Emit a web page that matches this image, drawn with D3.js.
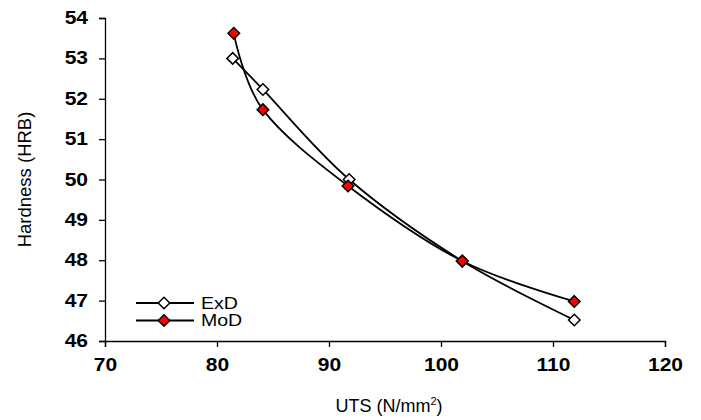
<!DOCTYPE html>
<html><head><meta charset="utf-8">
<script src="https://cdn.jsdelivr.net/npm/d3@7"></script>
<style>body{margin:0;background:#fff}svg{display:block}</style>
</head><body>
<svg id="c" width="701" height="420"></svg>
<script>
const seriesNames = ["ExD", "MoD"];
const utsExD = [81.4, 84.1, 91.8, 101.9, 111.9];
const hrbExD = [53.0, 52.23, 50.0, 47.98, 46.52];
const utsMoD = [81.5, 84.1, 91.7, 101.9, 111.9];
const hrbMoD = [53.62, 51.73, 49.84, 47.98, 46.98];
const xTicks = [70, 80, 90, 100, 110, 120];
const yTicks = [46, 47, 48, 49, 50, 51, 52, 53, 54];
const fills = ["#ffffff", "#ff0000"];

const svg = d3.select("#c");
const L = 105, R = 665, T = 18, B = 341;
const x = d3.scaleLinear().domain([70, 120]).range([L, R]);
const y = d3.scaleLinear().domain([46, 54]).range([B, T]);
const font = "'Liberation Sans', Arial, sans-serif";

function stretch(sel, f) {
  sel.each(function () {
    const w = this.getComputedTextLength();
    d3.select(this).attr("textLength", w * f).attr("lengthAdjust", "spacingAndGlyphs");
  });
}

const xa = svg.append("g").attr("transform", `translate(0,${B})`)
  .call(d3.axisBottom(x).tickValues(xTicks).tickSizeOuter(0).tickSize(6).tickPadding(12));
const ya = svg.append("g").attr("transform", `translate(${L},0)`)
  .call(d3.axisLeft(y).tickValues(yTicks).tickSizeOuter(0).tickSize(6).tickPadding(11));
[xa, ya].forEach(a => {
  a.select(".domain").attr("stroke", "#000").attr("stroke-width", 1.3);
  a.selectAll(".tick line").attr("stroke", "#000").attr("stroke-width", 1.3);
  a.selectAll(".tick text").attr("fill", "#000").style("font-family", font)
    .style("font-size", "17.5px").style("font-weight", "bold");
  stretch(a.selectAll(".tick text"), 1.2);
});

const data = [
  utsExD.map((v, i) => [v, hrbExD[i]]),
  utsMoD.map((v, i) => [v, hrbMoD[i]])
];
const line = d3.line().x(d => x(d[0])).y(d => y(d[1])).curve(d3.curveCatmullRom.alpha(0));
const sym = d3.symbol().type(d3.symbolDiamond2).size(85);

data.forEach((pts, si) => {
  svg.append("path").attr("d", line(pts)).attr("fill", "none")
    .attr("stroke", "#000").attr("stroke-width", 1.8);
});
data.forEach((pts, si) => {
  svg.append("g").selectAll("path").data(pts).join("path")
    .attr("d", sym).attr("transform", d => `translate(${x(d[0])},${y(d[1])})`)
    .attr("fill", fills[si]).attr("stroke", "#000").attr("stroke-width", 1.5);
});

// legend
const lg = svg.append("g");
seriesNames.forEach((n, i) => {
  const yy = 303 + i * 17.5;
  lg.append("line").attr("x1", 136).attr("x2", 194).attr("y1", yy).attr("y2", yy)
    .attr("stroke", "#000").attr("stroke-width", 1.8);
  lg.append("path").attr("d", sym).attr("transform", `translate(164,${yy})`)
    .attr("fill", fills[i]).attr("stroke", "#000").attr("stroke-width", 1.5);
  const t = lg.append("text").attr("x", 201).attr("y", yy + 5.5).text(n)
    .style("font-family", font).style("font-size", "16px");
  stretch(t, 1.22);
});

// axis titles
const xt = svg.append("text").attr("x", 389).attr("y", 412).attr("text-anchor", "middle")
  .style("font-family", font).style("font-size", "18px");
xt.append("tspan").text("UTS (N/mm");
xt.append("tspan").text("2").attr("dy", -7).style("font-size", "11px");
xt.append("tspan").text(")").attr("dy", 7);

svg.append("text").attr("transform", `translate(31,${(T + B) / 2}) rotate(-90)`)
  .attr("text-anchor", "middle").style("font-family", font).style("font-size", "18.5px")
  .text("Hardness (HRB)");
</script>
</body></html>
